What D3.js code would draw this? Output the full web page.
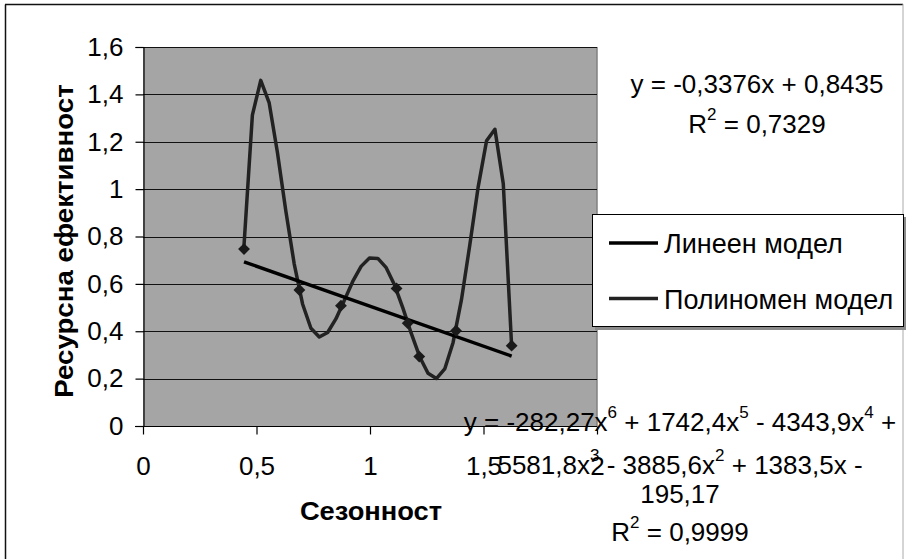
<!DOCTYPE html>
<html>
<head>
<meta charset="utf-8">
<script src="https://cdn.jsdelivr.net/npm/d3@7/dist/d3.min.js"></script>
<style>
  html, body { margin: 0; padding: 0; background: #fff; }
  svg { display: block; }
  text { font-family: "Liberation Sans", Arial, sans-serif; fill: #000; }
</style>
</head>
<body>
<svg id="chart" width="906" height="559"></svg>
<script>
// Observations: seasonality (x) vs resource efficiency (y)
const xValues = [0.445, 0.689, 0.872, 1.117, 1.166, 1.217, 1.379, 1.624];
const yValues = [0.747, 0.574, 0.508, 0.581, 0.434, 0.293, 0.402, 0.339];

// Axis ticks
const xTicks = [0, 0.5, 1, 1.5, 2];
const yTicks = [0, 0.2, 0.4, 0.6, 0.8, 1, 1.2, 1.4, 1.6];

// Trendline coefficients as printed (highest power first) and fit quality
const linearCoef = [-0.3376, 0.8435];
const linearR2 = 0.7329;
const polyCoef = [-282.27, 1742.4, -4343.9, 5581.8, -3885.6, 1383.5, -195.17];
const polyR2 = 0.9999;

const legendLabels = ["Линеен модел", "Полиномен модел"];
const xTitle = "Сезонност";
const yTitle = "Ресурсна ефективност";

const svg = d3.select("#chart");
const plot = { left: 143, right: 597, top: 47, bottom: 426 };
const x = d3.scaleLinear().domain([0, 2]).range([plot.left, plot.right]);
const y = d3.scaleLinear().domain([0, 1.6]).range([plot.bottom, plot.top]);

const dec = v => String(v).replace(".", ",");
const evalPoly = (coef, v) => coef.reduce((acc, c) => acc * v + c, 0);

// The printed coefficients are rounded; recover full-precision ones by a
// least-squares fit to the observations, kept within the rounding interval
// of each printed value (ridge prior centred on the printed coefficients).
function refinePoly(xs, ys, base, sigma) {
  const n = base.length, deg = n - 1;
  const half = base.map(c => {
    const s = String(Math.abs(c)), p = s.indexOf(".");
    return 0.5 * Math.pow(10, -(p < 0 ? 0 : s.length - p - 1));
  });
  const M = d3.range(n).map(() => new Array(n).fill(0));
  const v = new Array(n).fill(0);
  xs.forEach((xv, i) => {
    const row = base.map((_, k) => Math.pow(xv, deg - k));
    const r = ys[i] - evalPoly(base, xv);
    for (let j = 0; j < n; j++) {
      v[j] += row[j] * r / (sigma * sigma);
      for (let k = 0; k < n; k++) M[j][k] += row[j] * row[k] / (sigma * sigma);
    }
  });
  for (let k = 0; k < n; k++) M[k][k] += 1 / (half[k] * half[k]);
  // Gaussian elimination with partial pivoting
  for (let c = 0; c < n; c++) {
    let p = c;
    for (let r = c + 1; r < n; r++) if (Math.abs(M[r][c]) > Math.abs(M[p][c])) p = r;
    [M[c], M[p]] = [M[p], M[c]]; [v[c], v[p]] = [v[p], v[c]];
    for (let r = c + 1; r < n; r++) {
      const f = M[r][c] / M[c][c];
      for (let k = c; k < n; k++) M[r][k] -= f * M[c][k];
      v[r] -= f * v[c];
    }
  }
  const d = new Array(n).fill(0);
  for (let r = n - 1; r >= 0; r--) {
    let s = v[r];
    for (let k = r + 1; k < n; k++) s -= M[r][k] * d[k];
    d[r] = s / M[r][r];
  }
  return base.map((c, k) => c + d[k]);
}
const polyFit = refinePoly(xValues, yValues, polyCoef, 0.004);

// Chart area border
svg.append("line").attr("x1", 5.5).attr("y1", 4.5).attr("x2", 5.5).attr("y2", 559)
  .attr("stroke", "#111").attr("stroke-width", 1.5);
svg.append("line").attr("x1", 5).attr("y1", 4.5).attr("x2", 903).attr("y2", 4.5)
  .attr("stroke", "#111").attr("stroke-width", 1.5);
svg.append("line").attr("x1", 903).attr("y1", 4).attr("x2", 903).attr("y2", 559)
  .attr("stroke", "#aaa").attr("stroke-width", 1);

// Plot area
svg.append("rect")
  .attr("x", plot.left).attr("y", plot.top)
  .attr("width", plot.right - plot.left).attr("height", plot.bottom - plot.top)
  .attr("fill", "#a5a5a5");
svg.append("line").attr("x1", plot.right).attr("x2", plot.right)
  .attr("y1", plot.top).attr("y2", plot.bottom)
  .attr("stroke", "#808080").attr("stroke-width", 1.5);

// Gridlines
svg.append("g").selectAll("line").data(yTicks.filter(t => t > 0)).join("line")
  .attr("x1", plot.left).attr("x2", plot.right)
  .attr("y1", d => Math.round(y(d)) + 0.5).attr("y2", d => Math.round(y(d)) + 0.5)
  .attr("stroke", "#111").attr("stroke-width", 1);

// Axes
const yAxis = d3.axisLeft(y).tickValues(yTicks).tickSize(8).tickPadding(12).tickFormat(dec);
const gy = svg.append("g").attr("transform", `translate(${plot.left + 0.5},0)`).call(yAxis);
const xAxis = d3.axisBottom(x).tickValues(xTicks).tickSize(8).tickPadding(22).tickFormat(dec);
const gx = svg.append("g").attr("transform", `translate(0,${plot.bottom + 0.5})`).call(xAxis);
[gx, gy].forEach(g => {
  g.select(".domain").attr("stroke", "#000").attr("stroke-width", 1.2);
  g.selectAll(".tick line").attr("stroke", "#000").attr("stroke-width", 1.2);
  g.selectAll(".tick text").attr("font-size", 26).attr("fill", "#000")
    .style("font-family", '"Liberation Sans", Arial, sans-serif');
});
gx.select(".domain").attr("d", `M${plot.left - 8},0H${plot.right}`);

// Axis titles
svg.append("text").attr("transform", "translate(371,520) scale(1.05,1)")
  .attr("text-anchor", "middle")
  .attr("font-size", 26).attr("font-weight", "bold").text(xTitle);
svg.append("text").attr("transform", "translate(73,241) rotate(-90) scale(1.065,1)")
  .attr("text-anchor", "middle").attr("font-size", 26).attr("font-weight", "bold").text(yTitle);

// Trendlines over the observed x range
const [xMin, xMax] = d3.extent(xValues);
const line = d3.line().x(d => x(d[0])).y(d => y(d[1]));

const polySteps = 32;
const polyPts = d3.range(polySteps + 1).map(i => {
  const v = xMin + (xMax - xMin) * i / polySteps;
  return [v, evalPoly(polyFit, v)];
});
svg.append("path").attr("d", line(polyPts))
  .attr("fill", "none").attr("stroke", "#222").attr("stroke-width", 3.5)
  .attr("stroke-linejoin", "round");

const linPts = [xMin, xMax].map(v => [v, evalPoly(linearCoef, v)]);
svg.append("path").attr("d", line(linPts))
  .attr("fill", "none").attr("stroke", "#000").attr("stroke-width", 3.5);

// Observation markers (diamonds)
const diamond = d3.symbol().type(d3.symbolSquare).size(70);
svg.append("g").selectAll("path").data(xValues.map((v, i) => [v, yValues[i]])).join("path")
  .attr("d", diamond)
  .attr("transform", d => `translate(${x(d[0])},${y(d[1])}) rotate(45)`)
  .attr("fill", "#1a1a1a");

// Equation labels with superscripts
function eqLine(cx, baseline, parts, size) {
  const t = svg.append("text").attr("x", cx).attr("y", baseline)
    .attr("text-anchor", "middle").attr("font-size", size || 26);
  parts.forEach(([s, sup]) => {
    const span = t.append("tspan").text(s);
    if (sup) span.attr("font-size", 17).attr("baseline-shift", "13");
  });
}
const sgn = v => (v < 0 ? "-" : "+");
const abs = v => dec(Math.abs(v));

const [a1, b0] = linearCoef;
eqLine(757, 93, [[`y = ${a1 < 0 ? "-" : ""}${abs(a1)}x ${sgn(b0)} ${abs(b0)}`]]);
eqLine(757, 133, [["R"], ["2", true], [` = ${dec(linearR2)}`]]);

const [c6, c5, c4, c3, c2, c1, c0] = polyCoef;
eqLine(680, 431, [
  [`y = ${c6 < 0 ? "-" : ""}${abs(c6)}x`], ["6", true],
  [` ${sgn(c5)} ${abs(c5)}x`], ["5", true],
  [` ${sgn(c4)} ${abs(c4)}x`], ["4", true],
  [` ${sgn(c3)}`]
]);
eqLine(680, 474, [
  [`${abs(c3)}x`], ["3", true],
  [` ${sgn(c2)} ${abs(c2)}x`], ["2", true],
  [` ${sgn(c1)} ${abs(c1)}x ${sgn(c0)}`]
]);
eqLine(680, 503, [[abs(c0)]]);
eqLine(680, 541, [["R"], ["2", true], [` = ${dec(polyR2)}`]]);

// Legend
const lg = svg.append("g");
lg.append("rect").attr("x", 595).attr("y", 217).attr("width", 312).attr("height", 113).attr("fill", "#8a8a8a");
lg.append("rect").attr("x", 592.5).attr("y", 214.5).attr("width", 311).attr("height", 112)
  .attr("fill", "#fff").attr("stroke", "#000").attr("stroke-width", 1);
const legendColors = ["#000", "#222"];
legendLabels.forEach((lab, i) => {
  const ly = 243 + i * 55.5;
  lg.append("line").attr("x1", 609).attr("x2", 658).attr("y1", ly).attr("y2", ly)
    .attr("stroke", legendColors[i]).attr("stroke-width", 3.5);
  lg.append("text").attr("x", 664).attr("y", ly + 10).attr("font-size", 27).text(lab);
});
</script>
</body>
</html>
